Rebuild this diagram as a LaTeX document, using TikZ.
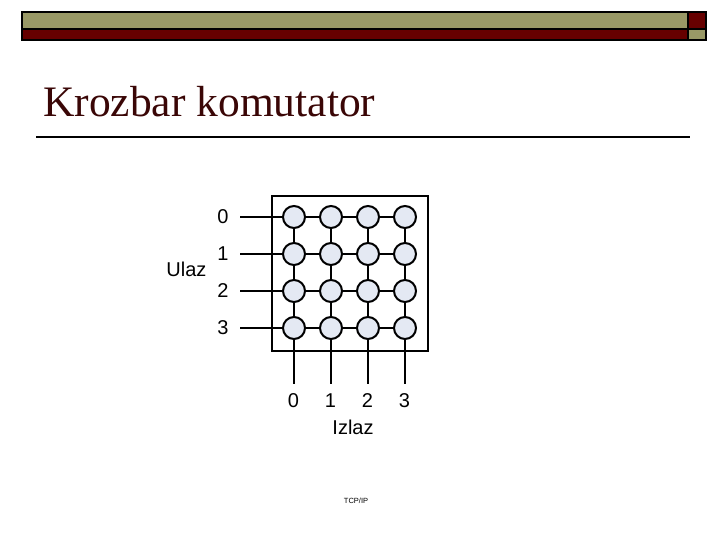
\documentclass[tikz,border=0pt]{standalone}
\usepackage{fontspec}
\setmainfont{Liberation Serif}
\setsansfont{Liberation Sans}
\begin{document}
\begin{tikzpicture}[x=1pt,y=-1pt,
  xnode/.style={circle,draw=black,line width=2pt,fill=circfill,minimum size=22pt,inner sep=0pt},
  wire/.style={line width=2pt},
  lbl/.style={font=\sffamily\fontsize{20}{24}\selectfont,inner sep=0pt},
]
\definecolor{olivebar}{HTML}{999966}
\definecolor{redbar}{HTML}{660000}
\definecolor{titlered}{HTML}{3A0606}
\definecolor{circfill}{HTML}{E4E9F3}
\useasboundingbox (0,0) rectangle (720,540);
% top bar
\fill[olivebar] (22,12) rectangle (688,29);
\fill[redbar] (22,29) rectangle (688,40);
\fill[redbar] (688,12) rectangle (706,29);
\fill[olivebar] (688,29) rectangle (706,40);
\draw[line width=2pt] (22,12) rectangle (706,40);
\draw[line width=2pt] (22,29) -- (706,29);
\draw[line width=2pt] (688,12) -- (688,40);
% title
\node[anchor=base west,inner sep=0pt,text=titlered,font=\fontsize{43.5}{50}\selectfont] (title) at (43,116.5) {Krozbar komutator};
\draw[line width=2pt] (36,137) -- (690,137);
% box
\draw[line width=2pt] (272,196) rectangle (428,351);
% nodes
\foreach \j/\y in {0/217,1/254,2/291,3/328}{
  \coordinate (in\j) at (240,\y);
  \node[lbl] (ilab\j) at (223,\y) {\j};
  \foreach \i/\x in {0/294,1/331,2/368,3/405}{
    \node[xnode] (c\j\i) at (\x,\y) {};
  }
}
\foreach \i/\x in {0/294,1/331,2/368,3/405}{
  \coordinate (out\i) at (\x,384);
  \node[lbl] (olab\i) at (\x-0.5,401) {\i};
}
% wires
\foreach \j in {0,1,2,3}{
  \draw[wire] (in\j) -- (c\j0);
  \draw[wire] (c\j0) -- (c\j1);
  \draw[wire] (c\j1) -- (c\j2);
  \draw[wire] (c\j2) -- (c\j3);
}
\foreach \i in {0,1,2,3}{
  \draw[wire] (c0\i) -- (c1\i);
  \draw[wire] (c1\i) -- (c2\i);
  \draw[wire] (c2\i) -- (c3\i);
  \draw[wire] (c3\i) -- (out\i);
}
\node[lbl] (ulaz) at (186.5,269.5) {Ulaz};
\node[lbl] (izlaz) at (353,427) {Izlaz};
\node[font=\sffamily\fontsize{7.5}{9}\selectfont,inner sep=0pt] (footer) at (356,501) {TCP/IP};
\end{tikzpicture}
\end{document}
